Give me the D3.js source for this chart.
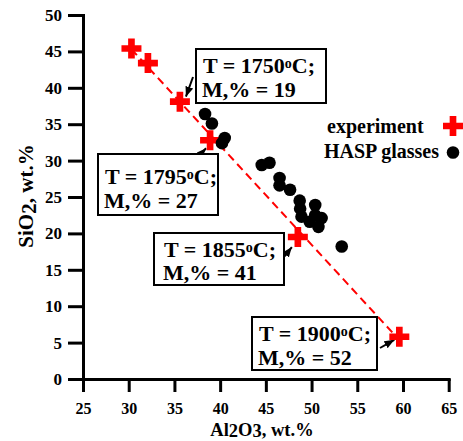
<!DOCTYPE html>
<html><head><meta charset="utf-8">
<script src="https://cdn.jsdelivr.net/npm/d3@7"></script>
<style>
body{margin:0;background:#fff}
svg{display:block}
text{font-family:"Liberation Serif","Times New Roman",serif;font-weight:bold;fill:#000}
</style>
</head><body><svg id="c" width="463" height="441"></svg>
<script>
// ---- data ----
const xTicks = [25, 30, 35, 40, 45, 50, 55, 60, 65];
const yTicks = [0, 5, 10, 15, 20, 25, 30, 35, 40, 45, 50];

const expAl2O3 = [30.3, 32.1, 35.6, 38.9, 48.5, 59.6];
const expSiO2  = [45.4, 43.4, 38.1, 32.8, 19.5, 5.8];

const haspAl2O3 = [38.35, 39.1, 40.2, 40.5, 44.55, 45.4, 46.5, 46.5, 47.65, 48.7, 48.75, 50.4, 48.9, 50.4, 51.1, 50.75, 49.8, 53.3];
const haspSiO2  = [36.4, 35.1, 32.4, 33.1, 29.4, 29.7, 27.6, 26.6, 26.0, 24.5, 23.4, 23.9, 22.3, 22.5, 22.1, 20.9, 21.6, 18.2];

const fitAl2O3 = [30.3, 59.2];
const fitSiO2  = [45.3, 5.9];

const annotTemp  = [1750, 1795, 1855, 1900];
const annotMelt  = [19, 27, 41, 52];
const annotPoint = [2, 3, 4, 5];

const legendLabels = ["experiment", "HASP glasses"];

// ---- layout ----
const x = d3.scaleLinear().domain([25, 65]).range([83, 448.7]);
const y = d3.scaleLinear().domain([0, 50]).range([379, 15]);
const svg = d3.select("#c");

const boxLayout = [
  {x0:196, y0:49,  w:130, h:54, tx:203, b1:72.5, b2:97,  tail:[193,77],    tip:[6,-5]},
  {x0:98,  y0:154, w:120, h:61, tx:105, b1:184,  b2:207.5, tail:[195,160],   tip:[-4,8]},
  {x0:154, y0:233, w:130, h:52, tx:164, b1:256.5,b2:280, tail:[284.5,256.5], tip:[-6,10]},
  {x0:252, y0:317, w:125, h:53, tx:259, b1:341,  b2:364.5, tail:[380,348],   tip:[-5,3]}
];

// axes
const gx = svg.append("g").attr("transform", "translate(0,379)")
  .call(d3.axisBottom(x).tickValues(xTicks).tickSize(13).tickPadding(11).tickSizeOuter(0));
const gy = svg.append("g").attr("transform", "translate(83,0)")
  .call(d3.axisLeft(y).tickValues(yTicks).tickSize(15).tickPadding(6).tickSizeOuter(0));
gx.attr("font-size", 16);
gy.attr("font-size", 17);
[gx, gy].forEach(g => {
  g.attr("font-family", null);
  g.select(".domain").attr("stroke-width", 3).attr("stroke-linecap", "square");
  g.selectAll(".tick line").attr("stroke-width", 3);
});

// axis titles
const xt = svg.append("text").attr("x", 262).attr("y", 435.5).attr("text-anchor", "middle").attr("font-size", 18.5);
xt.append("tspan").text("Al");
xt.append("tspan").attr("dy", 1.5).text("2");
xt.append("tspan").attr("dy", -1.5).text("O");
xt.append("tspan").attr("dy", 1.5).text("3");
xt.append("tspan").attr("dy", -1.5).text(", wt.%");

const yt = svg.append("text").attr("transform", "translate(33,196) rotate(-90)").attr("text-anchor", "middle").attr("font-size", 21);
yt.append("tspan").text("SiO");
yt.append("tspan").attr("dy", 3).text("2");
yt.append("tspan").attr("dy", -3).text(", wt.%");

// fit line
svg.append("path")
  .attr("d", d3.line().x(i => x(fitAl2O3[i])).y(i => y(fitSiO2[i]))(d3.range(fitAl2O3.length)))
  .attr("fill", "none").attr("stroke", "#ff0000").attr("stroke-width", 2).attr("stroke-dasharray", "8,5");

// arrow marker
svg.append("defs").append("marker").attr("id", "ah")
  .attr("viewBox", "0 0 10 8").attr("refX", 10).attr("refY", 4)
  .attr("markerWidth", 10).attr("markerHeight", 8).attr("markerUnits", "userSpaceOnUse")
  .attr("orient", "auto")
  .append("path").attr("d", "M0,0L10,4L0,8Z").attr("fill", "#000");

// annotations
annotTemp.forEach((t, i) => {
  const L = boxLayout[i];
  const p = annotPoint[i];
  const px = x(expAl2O3[p]) + L.tip[0], py = y(expSiO2[p]) + L.tip[1];
  svg.append("line").attr("x1", L.tail[0]).attr("y1", L.tail[1]).attr("x2", px).attr("y2", py)
    .attr("stroke", "#000").attr("stroke-width", 2).attr("marker-end", "url(#ah)");
  svg.append("rect").attr("x", L.x0).attr("y", L.y0).attr("width", L.w).attr("height", L.h)
    .attr("fill", "#fff").attr("stroke", "#000").attr("stroke-width", 2);
  const t1 = svg.append("text").attr("x", L.tx).attr("y", L.b1).attr("font-size", 22);
  t1.append("tspan").text("T = " + t);
  t1.append("tspan").attr("font-size", 14).attr("dy", -5).text("o");
  t1.append("tspan").attr("dy", 5).text("C;");
  svg.append("text").attr("x", L.tx - 1).attr("y", L.b2).attr("font-size", 22).text("M,% = " + annotMelt[i]);
});

// experiment crosses
const cross = d3.symbol().type(d3.symbolCross).size(222);
svg.append("g").selectAll("path").data(d3.range(expAl2O3.length)).join("path")
  .attr("transform", i => `translate(${x(expAl2O3[i])},${y(expSiO2[i])})`)
  .attr("d", cross).attr("fill", "#ff0000");

// HASP circles
svg.append("g").selectAll("circle").data(d3.range(haspAl2O3.length)).join("circle")
  .attr("cx", i => x(haspAl2O3[i])).attr("cy", i => y(haspSiO2[i])).attr("r", 6.3).attr("fill", "#000");

// legend
svg.append("text").attr("x", 327).attr("y", 133).attr("font-size", 20).text(legendLabels[0]);
svg.append("text").attr("x", 324).attr("y", 158).attr("font-size", 20).text(legendLabels[1]);
svg.append("path").attr("transform", "translate(453,126)").attr("d", cross).attr("fill", "#ff0000");
svg.append("circle").attr("cx", 453).attr("cy", 152.5).attr("r", 6.3).attr("fill", "#000");
</script>
</body></html>
